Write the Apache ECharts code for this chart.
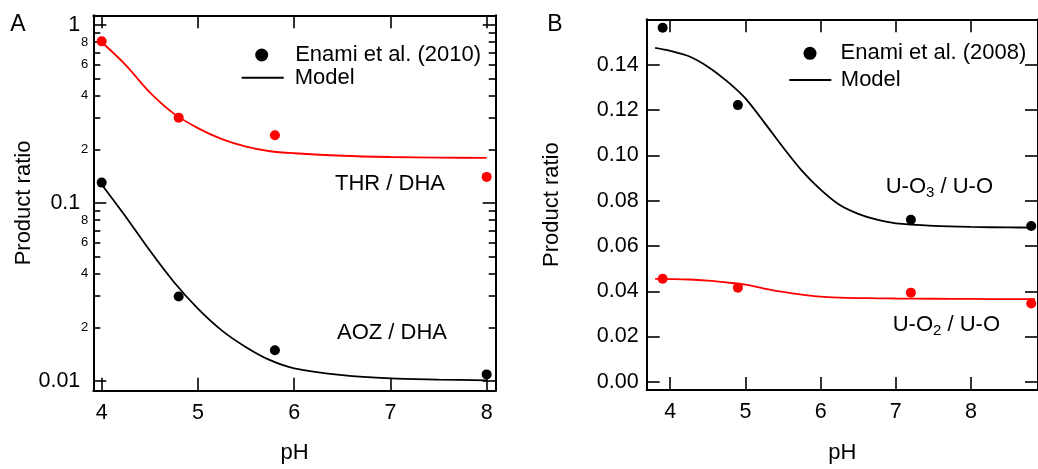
<!DOCTYPE html>
<html><head><meta charset="utf-8">
<script src="https://cdn.jsdelivr.net/npm/echarts@6/dist/echarts.min.js"></script>
<style>html,body{margin:0;padding:0;background:#fff}#c{width:1038px;height:469px}</style>
</head><body><div id="c"></div>
<script>
// ---------- Panel A data (log scale) ----------
const phObsA = [4.0, 4.8, 5.8, 8.0];
const thrObs = [0.807, 0.301, 0.240, 0.140];
const aozObs = [0.130, 0.0298, 0.0149, 0.0109];
const phModelA = [4.0, 4.25, 4.5, 4.75, 5.0, 5.25, 5.5, 5.75, 6.0, 6.5, 7.0, 7.5, 8.0];
const thrModel = [0.80, 0.594, 0.417, 0.317, 0.263, 0.228, 0.207, 0.195, 0.190, 0.184, 0.181, 0.1795, 0.179];
const aozModel = [0.127, 0.0837, 0.054, 0.036, 0.0255, 0.0192, 0.0155, 0.0131, 0.0118, 0.0108, 0.01035, 0.0102, 0.0101];
// ---------- Panel B data (linear scale) ----------
const phObsB = [3.9, 4.9, 7.2, 8.8];
const uo3Obs = [0.1564, 0.1222, 0.0716, 0.0688];
const uo2Obs = [0.0455, 0.0416, 0.0394, 0.0346];
const phModelB = [3.8, 4.0, 4.25, 4.5, 4.75, 5.0, 5.25, 5.5, 5.75, 6.0, 6.25, 6.5, 6.75, 7.0, 7.5, 8.0, 8.5, 8.85];
const uo3Model = [0.1475, 0.1462, 0.1438, 0.1392, 0.1329, 0.1252, 0.1146, 0.1036, 0.0933, 0.0849, 0.0782, 0.0742, 0.0716, 0.0700, 0.0689, 0.0684, 0.0682, 0.0681];
const uo2Model = [0.0455, 0.0454, 0.0452, 0.0447, 0.0439, 0.0429, 0.0412, 0.0397, 0.0385, 0.0376, 0.0372, 0.0370, 0.0369, 0.0368, 0.0367, 0.0366, 0.0365, 0.0365];
// ---------- ticks ----------
const xTicksA = [4, 5, 6, 7, 8];
const yMajorA = [0.01, 0.1, 1];
const yMinorTicksA = [0.02, 0.03, 0.04, 0.05, 0.06, 0.07, 0.08, 0.09, 0.2, 0.3, 0.4, 0.5, 0.6, 0.7, 0.8, 0.9];
const yMinorLabelsA = [0.02, 0.04, 0.06, 0.08, 0.2, 0.4, 0.6, 0.8];
const xTicksB = [4, 5, 6, 7, 8];
const yTicksB = [0, 0.02, 0.04, 0.06, 0.08, 0.10, 0.12, 0.14];

const FONT = '"Liberation Sans", Arial, Helvetica, sans-serif';
const BLACK = '#000000', RED = '#ff0000';
const TICKFS = 21.5, TEXTFS = 22;
const pair = (xs, ys) => xs.map((x, i) => [x, ys[i]]);

const chart = echarts.init(document.getElementById('c'), null, {renderer: 'canvas'});

function xAxis(grid, min, max, ticks, pos, labels, name, nameGap) {
  return {
    type: 'value', gridIndex: grid, min: min, max: max, position: pos,
    splitLine: {show: false},
    axisLine: {show: true, onZero: false, lineStyle: {color: BLACK, width: 2}},
    axisTick: {show: true, inside: true, length: 13, customValues: ticks, lineStyle: {color: BLACK, width: 1.6}},
    axisLabel: {show: labels, customValues: ticks, margin: 11, color: BLACK, fontSize: TICKFS, fontFamily: FONT},
    name: name || '', nameLocation: 'middle', nameGap: nameGap || 0,
    nameTextStyle: {color: BLACK, fontSize: TEXTFS, fontFamily: FONT}
  };
}
function yAxis(grid, type, min, max, pos, tickVals, tickLen, labelVals, fmt, fs, margin, name, nameGap, showLine) {
  return {
    type: type, gridIndex: grid, min: min, max: max, position: pos,
    logBase: 10,
    splitLine: {show: false},
    axisLine: {show: showLine, onZero: false, lineStyle: {color: BLACK, width: 2}},
    axisTick: {show: true, inside: true, length: tickLen, customValues: tickVals, lineStyle: {color: BLACK, width: 1.6}},
    axisLabel: {show: !!labelVals, customValues: labelVals || tickVals, formatter: fmt, margin: margin, color: BLACK, fontSize: fs, fontFamily: FONT},
    name: name || '', nameLocation: 'middle', nameGap: nameGap || 0,
    nameTextStyle: {color: BLACK, fontSize: TEXTFS, fontFamily: FONT}
  };
}
const majorFmt = v => String(v);
const minorFmt = v => String(Math.round(v / Math.pow(10, Math.floor(Math.log10(v) + 1e-9))));
const fmtB = v => v.toFixed(2);

const AYMIN = 0.00883, AYMAX = 1.13;
const BYMIN = -0.0036, BYMAX = 0.1601;

function scatter(name, xi, yi, xs, ys, color) {
  return {type: 'scatter', name: name, xAxisIndex: xi, yAxisIndex: yi, data: pair(xs, ys),
    symbol: 'circle', symbolSize: 10, itemStyle: {color: color, opacity: 1}, z: 5, silent: true};
}
function line(name, xi, yi, xs, ys, color) {
  return {type: 'line', name: name, xAxisIndex: xi, yAxisIndex: yi, data: pair(xs, ys),
    symbol: 'none', smooth: 0.3, lineStyle: {color: color, width: 1.8},
    itemStyle: {color: color}, z: 3, silent: true};
}

const option = {
  animation: false,
  backgroundColor: '#ffffff',
  textStyle: {fontFamily: FONT},
  grid: [
    {left: 93.3, top: 15.3, width: 402.4, height: 375.4},
    {left: 646.7, top: 19.3, width: 400, height: 375}
  ],
  xAxis: [
    xAxis(0, 3.913, 8.094, xTicksA, 'bottom', true, 'pH', 51),
    xAxis(0, 3.913, 8.094, xTicksA, 'top', false),
    xAxis(1, 3.688, 8.89, xTicksB, 'bottom', true, 'pH', 52),
    xAxis(1, 3.688, 8.89, xTicksB, 'top', false)
  ],
  yAxis: [
    yAxis(0, 'log', AYMIN, AYMAX, 'left', yMajorA, 13, yMajorA, majorFmt, TICKFS, 13, 'Product ratio', 58, true),
    yAxis(0, 'log', AYMIN, AYMAX, 'left', yMinorTicksA, 7, yMinorLabelsA, minorFmt, 13, 5, '', 0, false),
    yAxis(0, 'log', AYMIN, AYMAX, 'right', yMajorA, 13, null, null, 12, 5, '', 0, true),
    yAxis(0, 'log', AYMIN, AYMAX, 'right', yMinorTicksA, 7, null, null, 12, 5, '', 0, false),
    yAxis(1, 'value', BYMIN, BYMAX, 'left', yTicksB, 13, yTicksB, fmtB, TICKFS, 8, 'Product ratio', 84, true),
    yAxis(1, 'value', BYMIN, BYMAX, 'right', yTicksB, 13, null, null, 12, 5, '', 0, true)
  ],
  legend: [
    {left: 255.2, top: 44, padding: 0, itemWidth: 13, itemHeight: 13, selectedMode: false,
     data: [{name: 'Enami et al. (2010)', icon: 'circle', itemStyle: {color: BLACK}}],
     textStyle: {color: BLACK, fontSize: TEXTFS, fontFamily: FONT, padding: [0, 0, 0, 22]}},
    {left: 241.7, top: 66.7, padding: 0, itemWidth: 42, itemHeight: 2, selectedMode: false,
     data: [{name: 'Model', icon: 'rect', itemStyle: {color: BLACK}}],
     textStyle: {color: BLACK, fontSize: TEXTFS, fontFamily: FONT, padding: [0, 0, 0, 6]}},
    {left: 803.5, top: 42.3, padding: 0, itemWidth: 13, itemHeight: 13, selectedMode: false,
     data: [{name: 'Enami et al. (2008)', icon: 'circle', itemStyle: {color: BLACK}}],
     textStyle: {color: BLACK, fontSize: TEXTFS, fontFamily: FONT, padding: [0, 0, 0, 19]}},
    {left: 789.3, top: 69, padding: 0, itemWidth: 42, itemHeight: 2, selectedMode: false,
     data: [{name: 'Model', icon: 'rect', itemStyle: {color: BLACK}}],
     textStyle: {color: BLACK, fontSize: TEXTFS, fontFamily: FONT, padding: [0, 0, 0, 4.5]}}
  ],
  series: [
    line('Model', 0, 0, phModelA, aozModel, BLACK),
    line('Model', 0, 0, phModelA, thrModel, RED),
    scatter('Enami et al. (2010)', 0, 0, phObsA, aozObs, BLACK),
    scatter('Enami et al. (2010)', 0, 0, phObsA, thrObs, RED),
    line('Model', 2, 4, phModelB, uo3Model, BLACK),
    line('Model', 2, 4, phModelB, uo2Model, RED),
    scatter('Enami et al. (2008)', 2, 4, phObsB, uo3Obs, BLACK),
    scatter('Enami et al. (2008)', 2, 4, phObsB, uo2Obs, RED)
  ],
  graphic: [
    {type: 'text', x: 18, y: 25, style: {text: 'A', fontSize: 23, fontFamily: FONT, fill: BLACK, align: 'center', verticalAlign: 'middle'}},
    {type: 'text', x: 555, y: 25, style: {text: 'B', fontSize: 23, fontFamily: FONT, fill: BLACK, align: 'center', verticalAlign: 'middle'}},
    {type: 'text', x: 335, y: 184, style: {text: 'THR / DHA', fontSize: TEXTFS, fontFamily: FONT, fill: BLACK, align: 'left', verticalAlign: 'middle'}},
    {type: 'text', x: 337, y: 333, style: {text: 'AOZ / DHA', fontSize: TEXTFS, fontFamily: FONT, fill: BLACK, align: 'left', verticalAlign: 'middle'}},
    {type: 'text', x: 885.7, y: 187, style: {text: 'U-O{sub|3} / U-O', fontSize: TEXTFS, fontFamily: FONT, fill: BLACK, align: 'left', verticalAlign: 'middle',
      rich: {sub: {fontSize: 15, fontFamily: FONT, fill: BLACK, verticalAlign: 'bottom', lineHeight: 27}}}},
    {type: 'text', x: 892.7, y: 325, style: {text: 'U-O{sub|2} / U-O', fontSize: TEXTFS, fontFamily: FONT, fill: BLACK, align: 'left', verticalAlign: 'middle',
      rich: {sub: {fontSize: 15, fontFamily: FONT, fill: BLACK, verticalAlign: 'bottom', lineHeight: 27}}}}
  ]
};
chart.setOption(option);
</script>
</body></html>
